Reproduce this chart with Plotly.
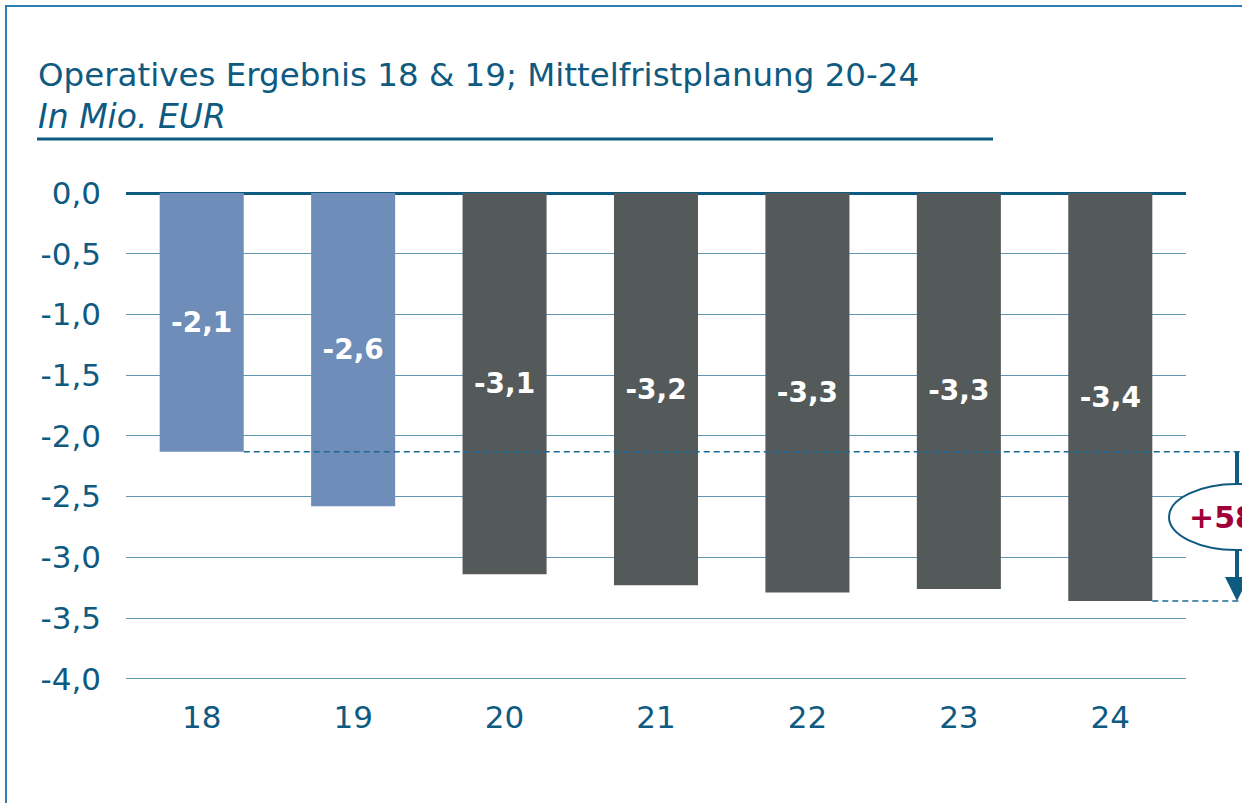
import plotly.graph_objects as go

# ---- data ----
years = ["18", "19", "20", "21", "22", "23", "24"]
values = [-2.13, -2.58, -3.14, -3.23, -3.29, -3.26, -3.36]
labels = ["-2,1", "-2,6", "-3,1", "-3,2", "-3,3", "-3,3", "-3,4"]
bar_colors = ["#6E8DB8", "#6E8DB8", "#545A5A", "#545A5A", "#545A5A", "#545A5A", "#545A5A"]
y_ticks = [0.0, -0.5, -1.0, -1.5, -2.0, -2.5, -3.0, -3.5, -4.0]
y_tick_text = ["0,0", "-0,5", "-1,0", "-1,5", "-2,0", "-2,5", "-3,0", "-3,5", "-4,0"]
change_label = "+58%"

title = "Operatives Ergebnis 18 & 19; Mittelfristplanung 20-24"
subtitle = "In Mio. EUR"

# ---- layout constants ----
W, H = 1242, 803
L, R, T, B = 126, 56, 193, 123
PW, PH = W - L - R, H - T - B
YMIN, YMAX = -4.01, 0.0
BAR_W = 0.555
N = len(years)
DARK = "#0E5A80"
FONT = "DejaVu Sans, Liberation Sans, Arial, sans-serif"


def px_x(px):
    return (px - L) / PW


def px_y(py):
    return (H - B - py) / PH


def val_y(v):
    return (v - YMIN) / (YMAX - YMIN)


def cat_x(i, off=0.0):
    return (i + off + 0.5) / N


fig = go.Figure(
    go.Bar(
        x=years,
        y=values,
        width=BAR_W,
        marker=dict(color=bar_colors, line=dict(width=0)),
        text=labels,
        textposition="inside",
        insidetextanchor="middle",
        textfont=dict(color="white", size=28, family=FONT, weight="bold"),
        hoverinfo="skip",
    )
)

shapes = []
# outer frame
shapes.append(dict(type="rect", xref="paper", yref="paper",
                   x0=px_x(6), x1=px_x(1400), y0=px_y(6), y1=px_y(1000),
                   line=dict(color="#2E7DB5", width=2), fillcolor="rgba(0,0,0,0)", layer="below"))
# title underline
shapes.append(dict(type="line", xref="paper", yref="paper",
                   x0=px_x(37), x1=px_x(993), y0=px_y(139), y1=px_y(139),
                   line=dict(color=DARK, width=3)))
# dashed reference lines
i_first, i_last = 0, N - 1
for idx in (i_first, i_last):
    shapes.append(dict(type="line", xref="paper", yref="paper",
                       x0=cat_x(idx, BAR_W / 2), x1=px_x(1260),
                       y0=val_y(values[idx]), y1=val_y(values[idx]),
                       line=dict(color="#1B6A93", width=1.5, dash="6px,4px")))
# arrow shaft
ax_px = 1237
shapes.append(dict(type="line", xref="paper", yref="paper",
                   x0=px_x(ax_px), x1=px_x(ax_px),
                   y0=val_y(values[i_first]), y1=px_y(500),
                   line=dict(color=DARK, width=4)))
# ellipse
shapes.append(dict(type="circle", xref="paper", yref="paper",
                   x0=px_x(1169), x1=px_x(1305), y0=px_y(550), y1=px_y(484),
                   line=dict(color=DARK, width=2), fillcolor="white"))

annotations = [
    dict(text=title, xref="paper", yref="paper", x=px_x(36), y=px_y(75),
         xanchor="left", yanchor="middle", showarrow=False,
         font=dict(family=FONT, size=32.5, color=DARK)),
    dict(text="<i>" + subtitle + "</i>", xref="paper", yref="paper", x=px_x(36), y=px_y(117),
         xanchor="left", yanchor="middle", showarrow=False,
         font=dict(family=FONT, size=33, color=DARK)),
    # arrow head (lower part)
    dict(text="", xref="paper", yref="paper", x=px_x(ax_px), y=val_y(values[i_last]),
         ax=0, ay=-52, axref="pixel", ayref="pixel", showarrow=True,
         arrowhead=2, arrowsize=1.2, arrowwidth=4, arrowcolor=DARK, standoff=0),
    dict(text="<b>" + change_label + "</b>", xref="paper", yref="paper",
         x=px_x(ax_px), y=px_y(517), xanchor="center", yanchor="middle", showarrow=False,
         font=dict(family=FONT, size=30, color="#A0003A")),
]

fig.update_layout(
    width=W, height=H,
    margin=dict(l=L, r=R, t=T, b=B, pad=0),
    paper_bgcolor="white", plot_bgcolor="white",
    showlegend=False,
    bargap=1 - BAR_W,
    shapes=shapes,
    annotations=annotations,
    font=dict(family=FONT, color=DARK),
)
fig.update_xaxes(
    type="category", showgrid=False, zeroline=False, showline=False,
    tickfont=dict(family=FONT, size=31, color=DARK), ticks="", ticklabelstandoff=16,
)
fig.update_yaxes(
    range=[YMIN, YMAX], tickvals=y_ticks, ticktext=y_tick_text,
    showgrid=True, gridcolor="#5F97B3", gridwidth=1.2,
    zeroline=True, zerolinecolor=DARK, zerolinewidth=2.5, showline=False,
    tickfont=dict(family=FONT, size=31, color=DARK), ticks="", ticklabelstandoff=24,
)

fig.write_html(
    "out.html",
    config={"displayModeBar": False},
    post_script="document.body.style.margin='0';document.body.style.overflow='hidden';",
)
